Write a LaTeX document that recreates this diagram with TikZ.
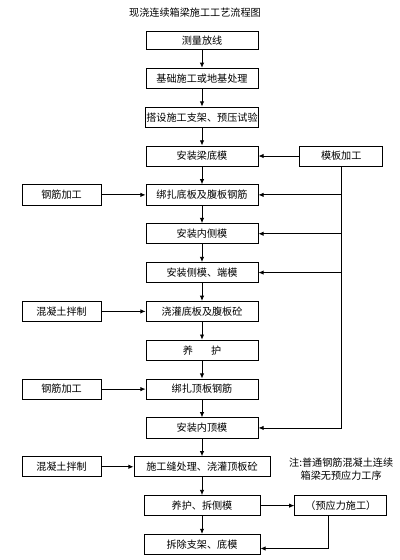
\documentclass[tikz,border=0pt]{standalone}
\usepackage{fontspec}
\setmainfont{Noto Sans CJK SC}
\usetikzlibrary{arrows.meta,positioning}

\begin{document}
\begin{tikzpicture}[
  node distance=4.45mm,
  every node/.style={font=\fontsize{7.2}{9.6}\selectfont},
  box/.style={draw,line width=.6pt,minimum width=28mm,minimum height=5.05mm,inner xsep=.5pt,inner ysep=1pt},
  side/.style={box,minimum width=19.8mm},
  arr/.style={-{Latex[length=1.3mm,width=1.1mm]},line width=.6pt}
]
\useasboundingbox (0,0) rectangle (100mm,-140mm);
\node (title) at (48.75mm,-3.25mm) {现浇连续箱梁施工工艺流程图};
\node[box,minimum height=4.6mm] (survey) at (50.5mm,-10.1mm) {测量放线};
\node[box,below=of survey] (found) {基础施工或地基处理};
\node[box,below=of found] (frame) {搭设施工支架、预压试验};
\node[box,below=of frame] (bottom) {安装梁底模};
\node[box,below=of bottom] (webbar) {绑扎底板及腹板钢筋};
\node[box,below=of webbar] (inner) {安装内侧模};
\node[box,below=of inner] (sideform) {安装侧模、端模};
\node[box,below=of sideform] (pourweb) {浇灌底板及腹板砼};
\node[box,below=of pourweb] (cure) {养\hspace{1.8em}护};
\node[box,below=of cure] (topbar) {绑扎顶板钢筋};
\node[box,below=of topbar] (topform) {安装内顶模};
\node[box,minimum width=34mm,below=of topform] (pourtop) {施工缝处理、浇灌顶板砼};
\node[box,minimum width=29mm,below=of pourtop] (strip) {养护、拆侧模};
\node[box,minimum width=29mm,below=of strip] (remove) {拆除支架、底模};
\node[side,minimum width=20.8mm,right=10.2mm of bottom] (mold) {模板加工};
\node[side,left=11mm of webbar] (rebar1) {钢筋加工};
\node[side,left=11mm of pourweb] (mix1) {混凝土拌制};
\node[side,left=11mm of topbar] (rebar2) {钢筋加工};
\node[side,anchor=east] (mix2) at (pourtop.west -| rebar1.east) {混凝土拌制};
\node[side,minimum width=23mm,right=8.5mm of strip] (prestress) {（预应力施工）};
\node[align=center] (note) at (85.3mm,-117.3mm) {注:普通钢筋混凝土连续\\箱梁无预应力工序};
\draw[arr] (survey)--(found); \draw[arr] (found)--(frame); \draw[arr] (frame)--(bottom);
\draw[arr] (bottom)--(webbar); \draw[arr] (webbar)--(inner); \draw[arr] (inner)--(sideform);
\draw[arr] (sideform)--(pourweb); \draw[arr] (pourweb)--(cure); \draw[arr] (cure)--(topbar);
\draw[arr] (topbar)--(topform); \draw[arr] (topform)--(pourtop); \draw[arr] (pourtop)--(strip);
\draw[arr] (strip)--(remove);
\draw[arr] (mold)--(bottom);
\draw[arr] (rebar1)--(webbar); \draw[arr] (mix1)--(pourweb); \draw[arr] (rebar2)--(topbar); \draw[arr] (mix2)--(pourtop);
\draw[arr] (mold.south) |- (topform);
\draw[arr] (mold.south |- webbar)--(webbar); \draw[arr] (mold.south |- inner)--(inner); \draw[arr] (mold.south |- sideform)--(sideform);
\draw[arr] (strip)--(prestress);
\draw[arr] ([xshift=-3mm]prestress.south) |- ([yshift=-1mm]remove.east);
\end{tikzpicture}
\end{document}
